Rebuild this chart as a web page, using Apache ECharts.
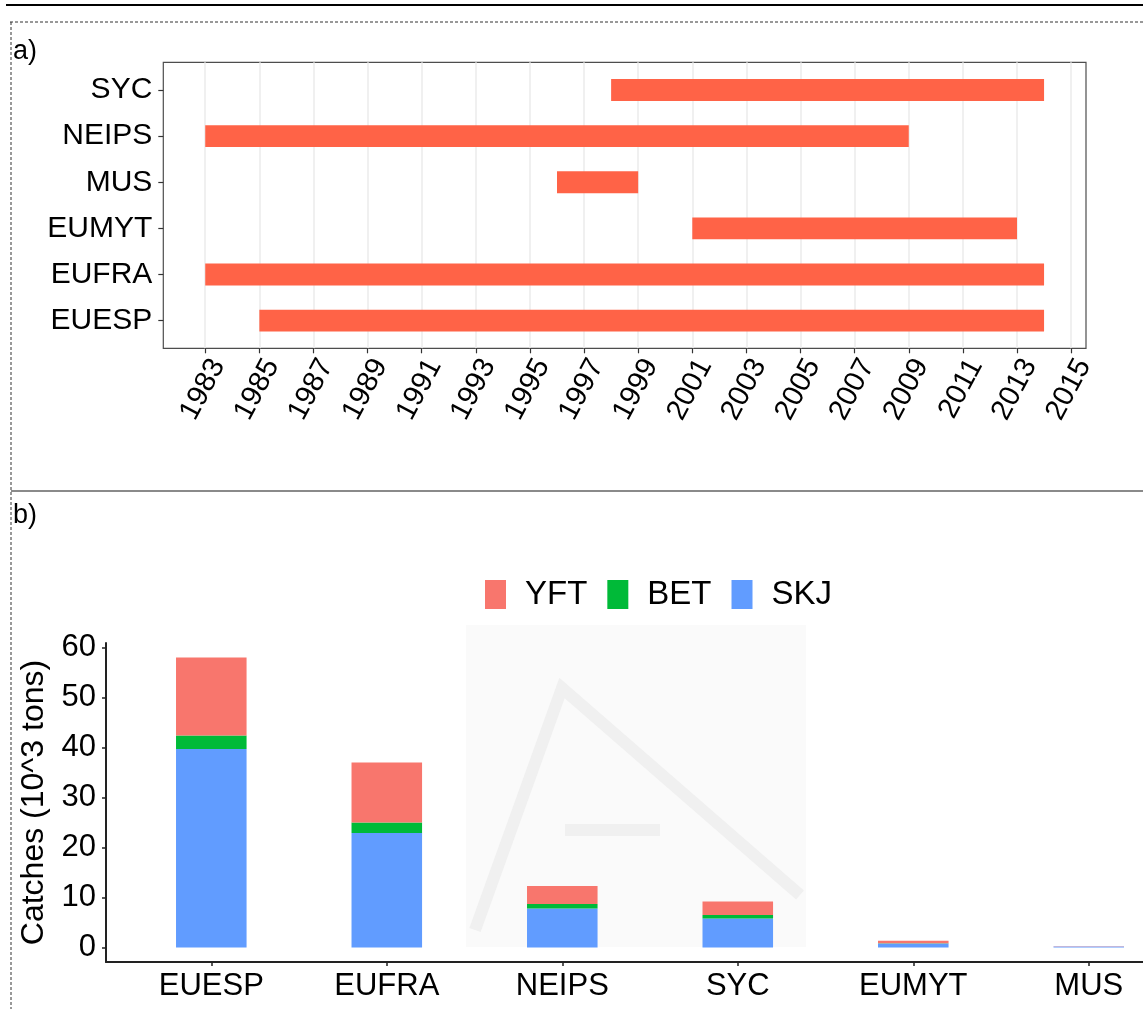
<!DOCTYPE html>
<html>
<head>
<meta charset="utf-8">
<script src="https://cdn.jsdelivr.net/npm/echarts@6/dist/echarts.min.js"></script>
<style>
html,body{margin:0;padding:0;background:#fff;}
#c{width:1143px;height:1009px;}
</style>
</head>
<body>
<div id="c"></div>
<script>
// ---- Panel a) : activity periods by fleet ----
const fleets = ['EUESP', 'EUFRA', 'EUMYT', 'MUS', 'NEIPS', 'SYC'];   // bottom -> top
const startYear = [1985, 1983, 2001, 1996, 1983, 1998];
const endYear   = [2014, 2014, 2013, 1999, 2009, 2014];
const yearTicks = [1983,1985,1987,1989,1991,1993,1995,1997,1999,2001,2003,2005,2007,2009,2011,2013,2015];

// ---- Panel b) : catches by fleet and species (10^3 tons) ----
const catchFleets = ['EUESP', 'EUFRA', 'NEIPS', 'SYC', 'EUMYT', 'MUS'];
const skj = [39.7, 22.9, 7.8, 5.8, 0.8, 0.2];
const bet = [2.7, 2.1, 0.9, 0.7, 0.05, 0.01];
const yft = [15.6, 12.0, 3.6, 2.7, 0.5, 0.02];
const catchTicks = [0, 10, 20, 30, 40, 50, 60];

const FONT = 'Liberation Sans, Arial, sans-serif';
const chart = echarts.init(document.getElementById('c'), null, {renderer: 'canvas'});

const fleetIdx = fleets.map((_, i) => i);
const catchIdx = catchFleets.map((_, i) => i);
const periodData = fleets.map((f, i) => [startYear[i], endYear[i], i]);

// stacked segments: [index, bottom, top]
const skjSeg = skj.map((v, i) => [i, 0, v]);
const betSeg = bet.map((v, i) => [i, skj[i], skj[i] + v]);
const yftSeg = yft.map((v, i) => [i, skj[i] + bet[i], skj[i] + bet[i] + v]);

function stackRender(params, api) {
  const top = api.coord([api.value(0), api.value(2)]);
  const bot = api.coord([api.value(0), api.value(1)]);
  const w = api.size([1, 0])[0] * 0.402;
  return {
    type: 'rect',
    shape: {x: top[0] - w / 2, y: top[1], width: w, height: Math.max(bot[1] - top[1], 0)},
    style: {fill: api.visual('color')}
  };
}

const option = {
  animation: false,
  backgroundColor: '#fff',
  textStyle: {fontFamily: FONT},
  graphic: [
    // decorative frame
    {type: 'line', z: 10, shape: {x1: 6, y1: 5, x2: 1143, y2: 5}, style: {stroke: '#000', lineWidth: 2}},
    {type: 'line', z: 10, shape: {x1: 10, y1: 22, x2: 1143, y2: 22}, style: {stroke: '#333', lineWidth: 1, lineDash: [3, 2]}},
    {type: 'line', z: 10, shape: {x1: 11, y1: 22, x2: 11, y2: 1009}, style: {stroke: '#333', lineWidth: 1, lineDash: [3, 2]}},
    {type: 'line', z: 10, shape: {x1: 11, y1: 491, x2: 1143, y2: 491}, style: {stroke: '#8a8a8a', lineWidth: 2}},
    {type: 'text', z: 10, left: 13, top: 38, style: {text: 'a)', font: '27px ' + FONT, fill: '#000'}},
    {type: 'text', z: 10, left: 13, top: 502, style: {text: 'b)', font: '27px ' + FONT, fill: '#000'}},
    // faint watermark in panel b background
    {type: 'rect', z: -5, shape: {x: 466, y: 625, width: 340, height: 322}, style: {fill: '#fafafa'}},
    {type: 'polyline', z: -4, shape: {points: [[475, 930], [562, 688], [800, 895]]}, style: {stroke: '#f0f0f0', lineWidth: 12, fill: null}},
    {type: 'polyline', z: -4, shape: {points: [[565, 830], [660, 830]]}, style: {stroke: '#f0f0f0', lineWidth: 12, fill: null}}
  ],
  grid: [
    {left: 163.3, top: 62.3, width: 922.7, height: 286, show: true, borderColor: '#4d4d4d', borderWidth: 1.2, backgroundColor: 'transparent'},
    {left: 106, top: 643, right: 0, height: 319, show: false}
  ],
  xAxis: [
    {
      type: 'value', gridIndex: 0, min: 1981.45, max: 2015.55,
      axisLine: {show: false, onZero: false},
      axisTick: {show: true, customValues: yearTicks, length: 5, lineStyle: {color: '#333', width: 1.2}},
      axisLabel: {customValues: yearTicks, formatter: v => String(v), rotate: 62, fontSize: 29, color: '#000',
                  margin: 6, verticalAlign: 'top', fontFamily: FONT},
      splitLine: {show: true, lineStyle: {color: '#ebebeb', width: 1.5}}
    },
    {
      type: 'value', gridIndex: 1, min: -0.6, max: 5.309,
      axisLine: {show: true, onZero: false, lineStyle: {color: '#222', width: 2}},
      axisTick: {show: true, customValues: catchIdx, length: 4, lineStyle: {color: '#222', width: 1.5}},
      axisLabel: {customValues: catchIdx, formatter: v => catchFleets[Math.round(v)], fontSize: 31, color: '#000', margin: 9, fontFamily: FONT},
      splitLine: {show: false}
    }
  ],
  yAxis: [
    {
      type: 'value', gridIndex: 0, min: -0.6, max: 5.6,
      axisLine: {show: false, onZero: false},
      axisTick: {show: true, customValues: fleetIdx, length: 5, lineStyle: {color: '#333', width: 1.2}},
      axisLabel: {customValues: fleetIdx, formatter: v => fleets[Math.round(v)], fontSize: 30, color: '#000', margin: 11, fontFamily: FONT},
      splitLine: {show: false}
    },
    {
      type: 'value', gridIndex: 1, min: -2.9, max: 60.9,
      name: 'Catches (10^3 tons)', nameLocation: 'middle', nameGap: 50, nameRotate: 90,
      nameTextStyle: {fontSize: 32, color: '#000', fontFamily: FONT},
      axisLine: {show: true, onZero: false, lineStyle: {color: '#222', width: 2}},
      axisTick: {show: true, customValues: catchTicks, length: 4, lineStyle: {color: '#222', width: 1.5}},
      axisLabel: {customValues: catchTicks, fontSize: 31, color: '#000', margin: 10, fontFamily: FONT},
      splitLine: {show: false}
    }
  ],
  legend: {
    data: ['YFT', 'BET', 'SKJ'],
    left: 485, top: 578, padding: 0,
    itemWidth: 21, itemHeight: 29, itemGap: 20,
    icon: 'rect',
    textStyle: {fontSize: 33, color: '#000', fontFamily: FONT, padding: [0, 0, 0, 14]}
  },
  series: [
    {
      type: 'custom', name: 'period', xAxisIndex: 0, yAxisIndex: 0,
      encode: {x: [0, 1], y: 2},
      data: periodData,
      z: 5,
      renderItem: function (params, api) {
        const s = api.coord([api.value(0), api.value(2)]);
        const e = api.coord([api.value(1), api.value(2)]);
        const h = api.size([0, 1])[1] * 0.475;
        return {type: 'rect', shape: {x: s[0], y: s[1] - h / 2, width: e[0] - s[0], height: h}, style: {fill: '#FF6347'}};
      }
    },
    {type: 'custom', name: 'SKJ', xAxisIndex: 1, yAxisIndex: 1, encode: {x: 0, y: [1, 2]},
     itemStyle: {color: '#619CFF'}, data: skjSeg, renderItem: stackRender},
    {type: 'custom', name: 'BET', xAxisIndex: 1, yAxisIndex: 1, encode: {x: 0, y: [1, 2]},
     itemStyle: {color: '#00BA38'}, data: betSeg, renderItem: stackRender},
    {type: 'custom', name: 'YFT', xAxisIndex: 1, yAxisIndex: 1, encode: {x: 0, y: [1, 2]},
     itemStyle: {color: '#F8766D'}, data: yftSeg, renderItem: stackRender}
  ]
};
chart.setOption(option);
</script>
</body>
</html>
